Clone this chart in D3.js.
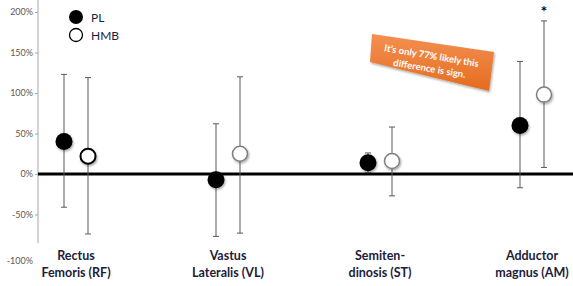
<!DOCTYPE html>
<html>
<head>
<meta charset="utf-8">
<script src="https://cdn.jsdelivr.net/npm/d3@7"></script>
<style>
body { margin: 0; background: #fff; }
svg { display: block; }
</style>
</head>
<body>
<div id="chart"></div>
<script>
// muscles along the x axis
var categories = ["RF", "VL", "ST", "AM"];
var categoryLines = [["Rectus", "Femoris (RF)"], ["Vastus", "Lateralis (VL)"], ["Semiten-", "dinosis (ST)"], ["Adductor", "magnus (AM)"]];
var groups = ["PL", "HMB"];

// % change, mean and confidence interval
var plMean = [40, -7, 14, 60];
var plLow = [-41, -77, 2, -17];
var plHigh = [123, 62, 26, 139];
var hmbMean = [22, 25, 16, 98];
var hmbLow = [-74, -73, -27, 8];
var hmbHigh = [119, 120, 58, 189];

var yTicks = [-100, -50, 0, 50, 100, 150, 200];

var width = 573, height = 286;

var svg = d3.select("#chart").append("svg")
    .attr("width", width)
    .attr("height", height)
    .style("font-family", "Lato, 'Open Sans', sans-serif");

var defs = svg.append("defs");
var shadow = defs.append("filter").attr("id", "shadow")
    .attr("x", "-50%").attr("y", "-50%").attr("width", "200%").attr("height", "200%");
shadow.append("feDropShadow").attr("dx", 1).attr("dy", 1.5).attr("stdDeviation", 1.2)
    .attr("flood-color", "#000").attr("flood-opacity", 0.35);

var grad = defs.append("linearGradient").attr("id", "orange")
    .attr("x1", 0).attr("y1", 0).attr("x2", 0).attr("y2", 1);
grad.append("stop").attr("offset", "0%").attr("stop-color", "#f49052");
grad.append("stop").attr("offset", "100%").attr("stop-color", "#e46c1f");

var x = d3.scaleBand().domain(categories).range([0, 608]);
var xOff = d3.scalePoint().domain(groups).range([-12, 12]);
var y = d3.scaleLinear().domain([-100, 200]).range([255, 12]);

var axisX = 38;

// y axis
var yAxis = svg.append("g")
    .attr("transform", "translate(" + axisX + ",0)")
    .call(d3.axisLeft(y).tickValues(yTicks).tickSize(3).tickFormat(function (d) { return d + "%"; }));
yAxis.select(".domain").remove();
yAxis.selectAll(".tick line").attr("stroke", "#a6a6a6");
yAxis.selectAll(".tick").filter(function (d) { return d === -100; }).select("line").remove();
yAxis.selectAll("text")
    .attr("fill", "#595959")
    .style("font-size", "9px")
    .style("font-family", "Lato, sans-serif")
    .attr("x", -5);
yAxis.selectAll(".tick").filter(function (d) { return d === -100; }).select("text").attr("dy", "0.9em");
svg.append("line")
    .attr("x1", axisX).attr("x2", axisX)
    .attr("y1", 0).attr("y2", 243)
    .attr("stroke", "#a6a6a6").attr("stroke-width", 1);

// zero line
svg.append("line")
    .attr("x1", axisX).attr("x2", width)
    .attr("y1", y(0)).attr("y2", y(0))
    .attr("stroke", "#000").attr("stroke-width", 3);

// build point table
var points = [];
categories.forEach(function (c, i) {
    points.push({cat: c, group: "PL", mean: plMean[i], low: plLow[i], high: plHigh[i]});
    points.push({cat: c, group: "HMB", mean: hmbMean[i], low: hmbLow[i], high: hmbHigh[i]});
});
function px(d) { return x(d.cat) + x.bandwidth() / 2 + xOff(d.group); }

// error bars
var bars = svg.append("g").selectAll("g").data(points).enter().append("g")
    .attr("stroke", "#595959").attr("stroke-width", 1);
bars.append("line")
    .attr("x1", px).attr("x2", px)
    .attr("y1", function (d) { return y(d.low); })
    .attr("y2", function (d) { return y(d.high); });
bars.append("line")
    .attr("x1", function (d) { return px(d) - 3; }).attr("x2", function (d) { return px(d) + 3; })
    .attr("y1", function (d) { return y(d.high); }).attr("y2", function (d) { return y(d.high); });
bars.append("line")
    .attr("x1", function (d) { return px(d) - 3; }).attr("x2", function (d) { return px(d) + 3; })
    .attr("y1", function (d) { return y(d.low); }).attr("y2", function (d) { return y(d.low); });

// markers
svg.append("g").selectAll("circle").data(points).enter().append("circle")
    .attr("cx", px)
    .attr("cy", function (d) { return y(d.mean); })
    .attr("r", function (d) { return d.group === "PL" ? 8.5 : 7.5; })
    .attr("fill", function (d) { return d.group === "PL" ? "#000" : "#fff"; })
    .attr("stroke", function (d) { return d.group === "PL" ? "none" : (d.cat === "RF" ? "#000" : "#7f7f7f"); })
    .attr("stroke-width", function (d) { return d.cat === "RF" ? 2 : 1.5; })
    .attr("filter", "url(#shadow)");

// significance mark
svg.append("text")
    .attr("x", px({cat: "AM", group: "HMB"}))
    .attr("y", 17)
    .attr("text-anchor", "middle")
    .style("font-size", "15px")
    .style("font-weight", "bold")
    .text("*");

// category labels
var labels = svg.append("g").selectAll("text").data(categories).enter().append("text")
    .attr("text-anchor", "middle")
    .attr("fill", "#1c1c3c")
    .style("font-size", "12.5px")
    .style("font-weight", "bold")
    .attr("transform", function (d) { return "translate(" + (x(d) + x.bandwidth() / 2) + ",0)"; });
labels.selectAll("tspan").data(function (d, i) { return categoryLines[i]; }).enter().append("tspan")
    .attr("x", 0)
    .attr("y", function (d, i) { return 260 + i * 17; })
    .text(function (d) { return d; });

// legend
var legend = svg.append("g").selectAll("g").data(groups).enter().append("g")
    .attr("transform", function (d, i) { return "translate(76," + (17 + i * 18) + ")"; });
legend.append("circle")
    .attr("r", function (d) { return d === "PL" ? 7 : 6.5; })
    .attr("fill", function (d) { return d === "PL" ? "#000" : "#fff"; })
    .attr("stroke", "#000")
    .attr("stroke-width", function (d) { return d === "PL" ? 0 : 1.3; });
legend.append("text")
    .attr("x", 15).attr("dy", "0.38em")
    .attr("fill", "#1c1c3c")
    .style("font-size", "12px")
    .text(function (d) { return d; });

// callout box
var callout = svg.append("g");
callout.append("path")
    .attr("d", "M372,34 L494,52 L489,91 L370,62 Z")
    .attr("fill", "url(#orange)")
    .attr("filter", "url(#shadow)");
var ct = callout.append("text")
    .attr("transform", "translate(431,59) rotate(9.5)")
    .attr("text-anchor", "middle")
    .attr("fill", "#fff")
    .style("font-size", "9.5px")
    .style("font-weight", "bold");
ct.append("tspan").attr("x", 0).attr("y", 0).text("It\u2019s only 77% likely this");
ct.append("tspan").attr("x", 0).attr("y", 13).text("difference is sign.");
</script>
</body>
</html>
